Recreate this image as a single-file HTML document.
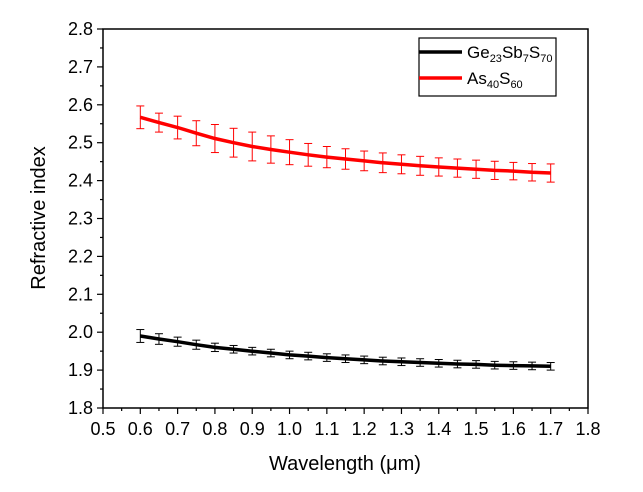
<!DOCTYPE html>
<html><head><meta charset="utf-8"><style>
body{margin:0;background:#fff;}
svg{display:block;font-family:"Liberation Sans",Arial,sans-serif;}
</style></head><body>
<svg id="chart" width="643" height="492"></svg>
<script>
const wavelengths=[0.6,0.65,0.7,0.75,0.8,0.85,0.9,0.95,1.0,1.05,1.1,1.15,1.2,1.25,1.3,1.35,1.4,1.45,1.5,1.55,1.6,1.65,1.7];
const gesbsValues=[1.99,1.982,1.975,1.967,1.96,1.955,1.95,1.945,1.94,1.937,1.933,1.93,1.927,1.924,1.922,1.92,1.918,1.916,1.915,1.913,1.912,1.911,1.91];
const gesbsErrors=[0.017,0.014,0.012,0.012,0.011,0.01,0.01,0.01,0.01,0.01,0.01,0.01,0.01,0.01,0.01,0.01,0.01,0.01,0.01,0.01,0.01,0.01,0.01];
const assValues=[2.567,2.553,2.54,2.525,2.511,2.5,2.49,2.482,2.475,2.468,2.462,2.457,2.452,2.447,2.443,2.439,2.436,2.433,2.43,2.427,2.425,2.422,2.42];
const assErrors=[0.03,0.025,0.03,0.033,0.037,0.038,0.038,0.036,0.033,0.03,0.028,0.027,0.026,0.026,0.025,0.025,0.024,0.024,0.024,0.024,0.023,0.023,0.024];
const xTicks=[0.5,0.6,0.7,0.8,0.9,1.0,1.1,1.2,1.3,1.4,1.5,1.6,1.7,1.8];
const yTicks=[1.8,1.9,2.0,2.1,2.2,2.3,2.4,2.5,2.6,2.7,2.8];
const L=103,R=588,T=29,B=408;
const xs=v=>L+(v-0.5)/1.3*(R-L);
const ys=v=>B-(v-1.8)/1.0*(B-T);
const svg=document.getElementById('chart');
const NS='http://www.w3.org/2000/svg';
function mk(tag,attrs,parent){const e=document.createElementNS(NS,tag);for(const k in attrs)e.setAttribute(k,attrs[k]);(parent||svg).appendChild(e);return e;}
const frame=mk('rect',{x:L,y:T,width:R-L,height:B-T,fill:'none',stroke:'#000','stroke-width':1.5});


xTicks.forEach((t,i)=>{
  const x=xs(t);
  mk('line',{x1:x,y1:B,x2:x,y2:B+6,stroke:'#000','stroke-width':1.2});
  if(i<xTicks.length-1){const xm=xs(t+0.05);mk('line',{x1:xm,y1:B,x2:xm,y2:B+3,stroke:'#000','stroke-width':1.2});}
  const tx=mk('text',{x:x,y:B+27,'font-size':18,'text-anchor':'middle',fill:'#000'});
  tx.textContent=t.toFixed(1);
  
  
});
yTicks.forEach((t,i)=>{
  const y=ys(t);
  mk('line',{x1:L,y1:y,x2:L-6,y2:y,stroke:'#000','stroke-width':1.2});
  if(i<yTicks.length-1){const ym=ys(t+0.05);mk('line',{x1:L,y1:ym,x2:L-3,y2:ym,stroke:'#000','stroke-width':1.2});}
  const tx=mk('text',{x:L-10,y:y+6,'font-size':18,'text-anchor':'end',fill:'#000'});
  tx.textContent=t.toFixed(1);
  
  
});
function series(vals,errs,color,name){
  const g=mk('g',{});
  
  
  vals.forEach((v,i)=>{
    const x=xs(wavelengths[i]),y1=ys(v-errs[i]),y2=ys(v+errs[i]);
    mk('line',{x1:x,y1:y1,x2:x,y2:y2,stroke:color,'stroke-width':1},g);
    mk('line',{x1:x-4,y1:y1,x2:x+4,y2:y1,stroke:color,'stroke-width':1},g);
    mk('line',{x1:x-4,y1:y2,x2:x+4,y2:y2,stroke:color,'stroke-width':1},g);
  });
  const d=vals.map((v,i)=>(i?'L':'M')+xs(wavelengths[i]).toFixed(1)+','+ys(v).toFixed(1)).join(' ');
  mk('path',{d:d,fill:'none',stroke:color,'stroke-width':3.5},g);
}
series(gesbsValues,gesbsErrors,'#000','series-ge23sb7s70');
series(assValues,assErrors,'#f00','series-as40s60');
</script>
<svg style="position:absolute;left:0;top:0" width="643" height="492">
<g>
<rect x="419" y="38" width="137" height="58" fill="#fff" stroke="#000" stroke-width="1.2"/>
<line x1="419" y1="52" x2="462" y2="52" stroke="#000" stroke-width="3.5"/>
<line x1="419" y1="78" x2="462" y2="78" stroke="#f00" stroke-width="3.5"/>
<text x="467" y="58" font-size="17" font-family="Liberation Sans, sans-serif">Ge<tspan font-size="11" dy="4">23</tspan><tspan dy="-4">Sb</tspan><tspan font-size="11" dy="4">7</tspan><tspan dy="-4">S</tspan><tspan font-size="11" dy="4">70</tspan></text>
<text x="467" y="84" font-size="17" font-family="Liberation Sans, sans-serif">As<tspan font-size="11" dy="4">40</tspan><tspan dy="-4">S</tspan><tspan font-size="11" dy="4">60</tspan></text>
</g>
<text x="345" y="470" font-size="20" text-anchor="middle" font-family="Liberation Sans, sans-serif">Wavelength (μm)</text>
<text transform="translate(45,218) rotate(-90)" font-size="20" text-anchor="middle" font-family="Liberation Sans, sans-serif">Refractive index</text>
</svg>
</body></html>
